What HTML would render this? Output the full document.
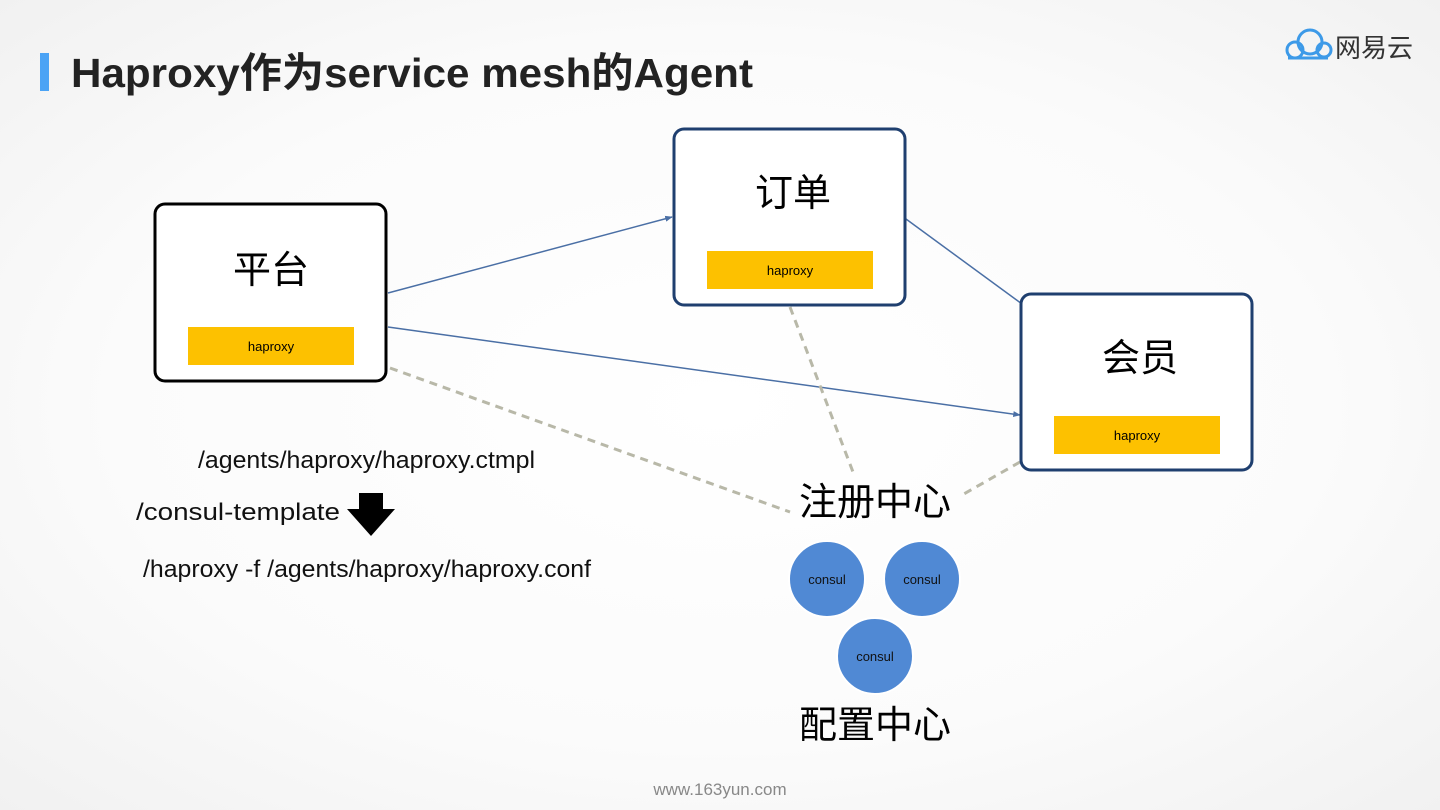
<!DOCTYPE html>
<html><head><meta charset="utf-8"><style>
body{margin:0;width:1440px;height:810px;overflow:hidden;background:radial-gradient(ellipse at 50% 50%,#ffffff 0%,#fbfbfb 60%,#f1f1f1 100%);font-family:"Liberation Sans","Noto Sans CJK SC",sans-serif;}
</style></head><body>
<svg width="1440" height="810" viewBox="0 0 1440 810" xmlns="http://www.w3.org/2000/svg" style="position:absolute;left:0;top:0">
<defs><marker id="a" viewBox="0 0 10 10" refX="9" refY="5" markerWidth="5" markerHeight="5" orient="auto"><path d="M0,1 L10,5 L0,9z" fill="#4a6fa5"/></marker></defs>
<rect x="40" y="53" width="9" height="38" fill="#4ba3f5"/>
<text x="71" y="87" font-size="41" font-weight="bold" fill="#222" textLength="682" lengthAdjust="spacingAndGlyphs">Haproxy作为service mesh的Agent</text>
<g fill="none" stroke="#3d9ae8" stroke-width="3"><circle cx="1295" cy="50" r="8"/><circle cx="1310" cy="42" r="12"/><circle cx="1324" cy="50" r="7"/><path d="M1288 58 H1328"/></g>
<text x="1335" y="57" font-size="26" fill="#333" textLength="78" lengthAdjust="spacingAndGlyphs">网易云</text>
<g stroke="#4a6fa5" stroke-width="1.5" fill="none">
<line x1="388" y1="293" x2="672" y2="217" marker-end="url(#a)"/>
<line x1="388" y1="327" x2="1020" y2="415" marker-end="url(#a)"/>
<line x1="906" y1="219" x2="1022" y2="304"/>
</g>
<g stroke="#b8b8a8" stroke-width="3" stroke-dasharray="8,6" fill="none">
<line x1="390" y1="368" x2="790" y2="512"/>
<line x1="790" y1="307" x2="853" y2="472"/>
<line x1="1020" y1="462" x2="962" y2="495"/>
</g>
<rect x="155" y="204" width="231" height="177" rx="10" fill="#fff" stroke="#000" stroke-width="3"/>
<text x="271" y="283" font-size="38" text-anchor="middle">平台</text>
<rect x="188" y="327" width="166" height="38" fill="#fdc100"/>
<text x="271" y="351" font-size="13" text-anchor="middle">haproxy</text>
<rect x="674" y="129" width="231" height="176" rx="10" fill="#fff" stroke="#1f3f6f" stroke-width="3"/>
<text x="793" y="206" font-size="38" text-anchor="middle">订单</text>
<rect x="707" y="251" width="166" height="38" fill="#fdc100"/>
<text x="790" y="275" font-size="13" text-anchor="middle">haproxy</text>
<rect x="1021" y="294" width="231" height="176" rx="10" fill="#fff" stroke="#1f3f6f" stroke-width="3"/>
<text x="1140" y="371" font-size="38" text-anchor="middle">会员</text>
<rect x="1054" y="416" width="166" height="38" fill="#fdc100"/>
<text x="1137" y="440" font-size="13" text-anchor="middle">haproxy</text>
<text x="875" y="515" font-size="38" text-anchor="middle">注册中心</text>
<text x="875" y="738" font-size="38" text-anchor="middle">配置中心</text>
<g fill="#5089d4" stroke="#fff" stroke-width="2">
<circle cx="827" cy="579" r="38"/><circle cx="922" cy="579" r="38"/><circle cx="875" cy="656" r="38"/></g>
<g font-size="13" text-anchor="middle" fill="#111"><text x="827" y="584">consul</text><text x="922" y="584">consul</text><text x="875" y="661">consul</text></g>
<g font-size="24" fill="#111">
<text x="198" y="468" textLength="337" lengthAdjust="spacingAndGlyphs">/agents/haproxy/haproxy.ctmpl</text>
<text x="136" y="520" textLength="204" lengthAdjust="spacingAndGlyphs">/consul-template</text>
<text x="143" y="577" textLength="448" lengthAdjust="spacingAndGlyphs">/haproxy -f /agents/haproxy/haproxy.conf</text></g>
<path d="M359 493 H383 V509 H395 L371 536 L347 509 H359z" fill="#000"/>
<text x="720" y="795" font-size="17" fill="#888" text-anchor="middle">www.163yun.com</text>
</svg>
</body></html>
